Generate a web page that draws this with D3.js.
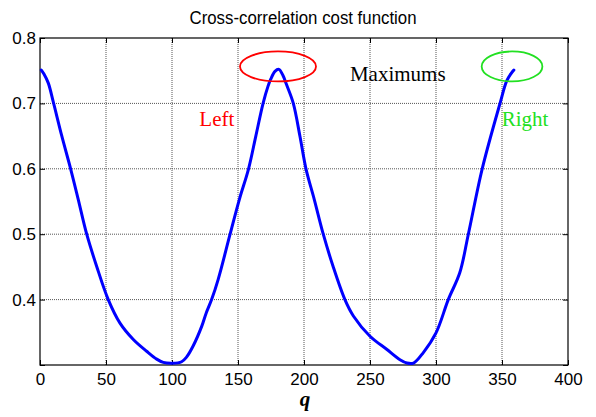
<!DOCTYPE html>
<html>
<head>
<meta charset="utf-8">
<script src="https://cdn.jsdelivr.net/npm/d3@7"></script>
<style>
  html, body { margin: 0; padding: 0; background: #fff; }
  svg { display: block; }
</style>
</head>
<body>
<div id="chart"></div>
<script>
// Curve: q (x) and cost (y)
const qValues = [1, 3, 6.3, 10.1, 16.4, 23.2, 29, 35.4, 42.9, 51.7, 60.6, 70.7, 80.8, 88.4, 93.4, 100.2, 107.3,
  111, 116, 122.5, 126, 130, 135, 144, 151, 158, 163.5, 169, 172.7, 174.8, 178, 181, 184, 186.9, 191.9, 197, 201.5,
  207.8, 214.6, 222, 231, 237.4, 250, 262.6, 272.7, 278, 283, 290.4, 300, 309.3, 318, 324.5, 335, 348.5, 353.5, 357, 359];
const costValues = [0.751, 0.745, 0.731, 0.702, 0.651, 0.600, 0.553, 0.500, 0.451, 0.400, 0.364, 0.339, 0.321, 0.309, 0.304, 0.3027, 0.305,
  0.312, 0.329, 0.359, 0.380, 0.400, 0.431, 0.500, 0.553, 0.600, 0.650, 0.700, 0.726, 0.737, 0.749, 0.752, 0.743, 0.728, 0.700, 0.649, 0.600,
  0.553, 0.500, 0.451, 0.400, 0.375, 0.344, 0.324, 0.308, 0.303, 0.303, 0.319, 0.349, 0.400, 0.441, 0.500, 0.600, 0.700, 0.734, 0.746, 0.751];

// Tick labels
const xTicks = [0, 50, 100, 150, 200, 250, 300, 350, 400];
const yTicks = [0.3, 0.4, 0.5, 0.6, 0.7, 0.8];

// Annotations (data coordinates)
const markLabels = ["Left", "Maximums", "Right"];
const markX = [120.7, 234.8, 349.8];
const markY = [0.6657, 0.7344, 0.6657];
const markColours = ["#ff0000", "#000000", "#22e022"];

const ellipseX = [180.3, 357.6];
const ellipseY = [0.7565, 0.7565];
const ellipseRq = [28.8, 23];
const ellipseColours = ["#ff0000", "#22e022"];

function drawChart() {
  const width = 596;
  const height = 417;
  const margin = { top: 38, right: 28, bottom: 52, left: 40 };

  const svg = d3
    .select("#chart")
    .append("svg")
    .attr("width", width)
    .attr("height", height);

  const x = d3.scaleLinear().domain([0, 400]).range([margin.left, width - margin.right]);
  const y = d3.scaleLinear().domain([0.3, 0.8]).range([height - margin.bottom, margin.top]);

  const x0 = x.range()[0], x1 = x.range()[1];
  const y0 = y.range()[0], y1 = y.range()[1];

  // Dotted grid
  svg.append("g")
    .selectAll("line")
    .data(xTicks.slice(1, -1))
    .enter()
    .append("line")
    .attr("x1", (d) => x(d))
    .attr("x2", (d) => x(d))
    .attr("y1", y1)
    .attr("y2", y0)
    .attr("stroke", "#555")
    .attr("stroke-dasharray", "1,1");

  svg.append("g")
    .selectAll("line")
    .data(yTicks.slice(1, -1))
    .enter()
    .append("line")
    .attr("x1", x0)
    .attr("x2", x1)
    .attr("y1", (d) => y(d))
    .attr("y2", (d) => y(d))
    .attr("stroke", "#555")
    .attr("stroke-dasharray", "1,1");

  // Axes, ticks inside like MATLAB
  const tickFont = (g) =>
    g.selectAll("text")
      .style("font-family", "Arial, 'Liberation Sans', sans-serif")
      .style("font-size", "17px")
      .attr("fill", "#000");

  svg.append("g")
    .attr("transform", `translate(0,${y0})`)
    .call(d3.axisBottom(x).tickValues(xTicks).tickSizeInner(-5).tickSizeOuter(0).tickPadding(8).tickFormat(d3.format("d")))
    .call(tickFont)
    .call((g) => g.select(".domain").remove());

  svg.append("g")
    .attr("transform", `translate(${x0},0)`)
    .call(d3.axisLeft(y).tickValues(yTicks).tickSizeInner(-5).tickSizeOuter(0).tickPadding(4)
      .tickFormat((d) => (d < 0.35 ? "" : d3.format(".1f")(d))))
    .call(tickFont)
    .call((g) => g.select(".domain").remove());

  svg.append("g")
    .attr("transform", `translate(0,${y1})`)
    .call(d3.axisTop(x).tickValues(xTicks).tickSizeInner(-5).tickSizeOuter(0).tickFormat(""))
    .call((g) => g.select(".domain").remove());

  svg.append("g")
    .attr("transform", `translate(${x1},0)`)
    .call(d3.axisRight(y).tickValues(yTicks).tickSizeInner(-5).tickSizeOuter(0).tickFormat(""))
    .call((g) => g.select(".domain").remove());

  svg.selectAll(".tick line").attr("stroke", "#000");

  // Frame
  svg.append("rect")
    .attr("x", x0)
    .attr("y", y1)
    .attr("width", x1 - x0)
    .attr("height", y0 - y1)
    .attr("fill", "none")
    .attr("stroke", "#000")
    .attr("stroke-width", 1.2);

  // Cost curve
  const points = qValues.map((q, i) => [q, costValues[i]]);
  const line = d3.line()
    .x((d) => x(d[0]))
    .y((d) => y(d[1]))
    .curve(d3.curveCatmullRom.alpha(0.5));

  svg.append("path")
    .datum(points)
    .attr("d", line)
    .attr("fill", "none")
    .attr("stroke", "#0000ff")
    .attr("stroke-width", 3)
    .attr("stroke-linejoin", "round")
    .attr("stroke-linecap", "round");

  // Ellipses round the maximums
  const ry = 15;
  ellipseX.forEach((cx, i) => {
    svg.append("ellipse")
      .attr("cx", x(cx))
      .attr("cy", y(ellipseY[i]))
      .attr("rx", x(ellipseRq[i]) - x(0))
      .attr("ry", ry)
      .attr("fill", "none")
      .attr("stroke", ellipseColours[i])
      .attr("stroke-width", 1.8);
  });

  // Text annotations
  markLabels.forEach((label, i) => {
    svg.append("text")
      .attr("x", x(markX[i]))
      .attr("y", y(markY[i]))
      .attr("fill", markColours[i])
      .style("font-family", "'Times New Roman', 'Liberation Serif', serif")
      .style("font-size", "21px")
      .text(label);
  });

  // Title
  svg.append("text")
    .attr("x", 303)
    .attr("y", 24)
    .attr("text-anchor", "middle")
    .attr("textLength", 227)
    .attr("lengthAdjust", "spacingAndGlyphs")
    .style("font-family", "Arial, 'Liberation Sans', sans-serif")
    .style("font-size", "18px")
    .text("Cross-correlation cost function");

  // X label
  svg.append("text")
    .attr("x", 305)
    .attr("y", 406)
    .attr("text-anchor", "middle")
    .style("font-family", "'Times New Roman', 'Liberation Serif', serif")
    .style("font-style", "italic")
    .style("font-weight", "bold")
    .style("font-size", "21px")
    .text("q");
}

drawChart();
</script>
</body>
</html>
